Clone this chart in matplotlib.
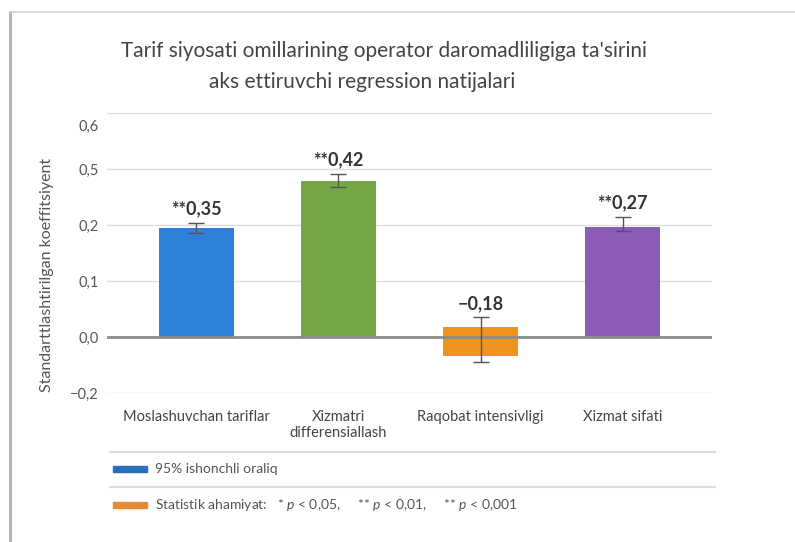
import numpy as np
import matplotlib
matplotlib.use("Agg")
import matplotlib.pyplot as plt
import matplotlib.transforms as mtransforms
from matplotlib.patches import Rectangle
from matplotlib.lines import Line2D

plt.rcParams['font.family'] = ['Lato', 'DejaVu Sans']
plt.rcParams['mathtext.fontset'] = 'custom'
plt.rcParams['mathtext.it'] = 'Lato:italic'
plt.rcParams['mathtext.rm'] = 'Lato'

# ---- data ----
title_lines = ["Tarif siyosati omillarining operator daromadliligiga ta'sirini",
               "aks ettiruvchi regression natijalari"]
categories = ["Moslashuvchan tariflar", "Xizmatri\ndifferensiallash",
              "Raqobat intensivligi", "Xizmat sifati"]
coef_top = [0.195, 0.437, 0.018, 0.196]
bar_bottom = [0.0, 0.0, -0.068, 0.0]
ci_low = [0.185, 0.404, -0.09, 0.189]
ci_high = [0.212, 0.473, 0.035, 0.245]
bar_labels = ["**0,35", "**0,42", "\u22120,18", "**0,27"]
bar_colors = ["#2f80d8", "#73a845", "#f0921e", "#8a5cb8"]
tick_values = [-0.2, 0.0, 0.1, 0.2, 0.5, 0.6]
tick_labels = ["\u22120,2", "0,0", "0,1", "0,2", "0,5", "0,6"]
ylabel = "Standarttlashtirilgan koeffitsiyent"
legend_items = ["95% ishonchli oraliq",
                "Statistik ahamiyat:   * $p$ < 0,05,     ** $p$ < 0,01,     ** $p$ < 0,001"]
legend_colors = ["#2b6fb8", "#e58a35"]

# piecewise-linear axis scale (equally spaced gridlines for uneven tick values)
scale_vals = [-0.4, -0.2, 0.0, 0.1, 0.2, 0.5, 0.6, 0.8]
scale_pos = [-2, -1, 0, 1, 2, 3, 4, 6]

def fwd(v):
    return np.interp(v, scale_vals, scale_pos)

def inv(p):
    return np.interp(p, scale_pos, scale_vals)

W, H = 795, 542
fig = plt.figure(figsize=(W / 100, H / 100), dpi=100)
fig.patch.set_facecolor("white")

def fx(px):
    return px / W

def fy(py):
    return 1 - py / H

# card frame
fig.add_artist(Line2D([fx(10), fx(10)], [fy(12), 0], color="#b5b5b5", lw=2.2))
fig.add_artist(Line2D([fx(10), 1], [fy(12), fy(12)], color="#d0d0d0", lw=1.2))

ax = fig.add_axes([fx(107), fy(393), fx(712) - fx(107), (393 - 113) / H])
ax.set_yscale('function', functions=(fwd, inv))
ax.set_ylim(-0.2, 0.6)
x = np.arange(len(categories))
ax.set_xlim(-0.63, 3.63)

ax.set_yticks(tick_values)
ax.set_yticklabels(tick_labels, fontsize=10.5, color="#555555")
ax.yaxis.grid(True, color="#dedede", lw=1.0)
ax.set_axisbelow(True)
ax.tick_params(axis='y', length=0, pad=6)
ax.tick_params(axis='x', length=0, pad=12)
for s in ax.spines.values():
    s.set_visible(False)
# the top tick label sits a little below its gridline in the reference
top_lbl = ax.get_yticklabels()[-1]
top_lbl.set_transform(top_lbl.get_transform() +
                      mtransforms.ScaledTranslation(0, -12 / 100, fig.dpi_scale_trans))

heights = [t - b for t, b in zip(coef_top, bar_bottom)]
ax.bar(x, heights, bottom=bar_bottom, width=0.53, color=bar_colors, zorder=2)
ax.axhline(0, color="#8c8c8c", lw=2.0, zorder=3)

yerr_lo = [t - l for t, l in zip(coef_top, ci_low)]
yerr_hi = [h - t for t, h in zip(coef_top, ci_high)]
ax.errorbar(x, coef_top, yerr=[yerr_lo, yerr_hi], fmt='none', ecolor="#555555",
            elinewidth=1.0, capsize=6, capthick=1.0, zorder=4)

for xi, hi, lab in zip(x, ci_high, bar_labels):
    ax.annotate(lab, (xi, hi), xytext=(0, 4), textcoords="offset points",
                ha="center", va="bottom", fontsize=13, fontweight="bold",
                color="#333333", zorder=5)

ax.set_xticks(x)
ax.set_xticklabels(categories, fontsize=10.5, color="#444444", linespacing=1.25)

fig.text(fx(47), fy(275), ylabel, rotation=90, ha="center", va="center",
         fontsize=11.5, color="#555555")

# title
fig.text(fx(384), fy(51), title_lines[0], ha="center", va="center",
         fontsize=15, color="#444444")
fig.text(fx(362), fy(82), title_lines[1], ha="center", va="center",
         fontsize=15, color="#444444")

# legend area
for py in (452, 487):
    fig.add_artist(Line2D([fx(110), fx(715)], [fy(py), fy(py)],
                          color="#dcdcdc", lw=1.6))
for i, (txt, col) in enumerate(zip(legend_items, legend_colors)):
    py = 469 + 36 * i
    fig.add_artist(Rectangle((fx(113), fy(py + 3)), fx(147) - fx(113), 6 / H,
                             color=col, transform=fig.transFigure))
    fig.text(fx(155), fy(py), txt, ha="left", va="center", fontsize=10,
             color="#555555")

fig.savefig("out.png", dpi=100, facecolor="white")
